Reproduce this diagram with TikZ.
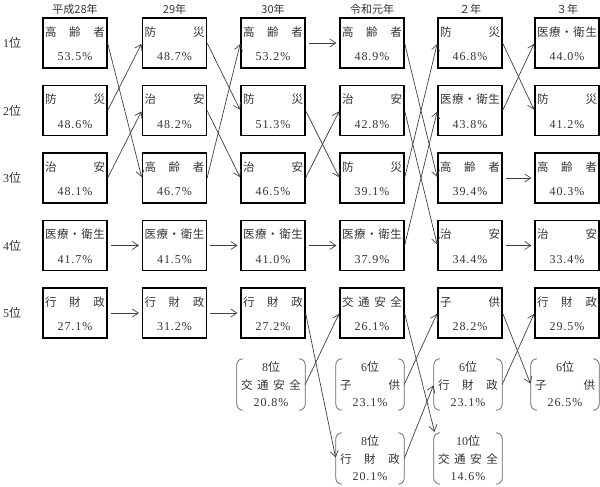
\documentclass[tikz,border=0pt]{standalone}
\usepackage{fontspec}
\setmainfont{Liberation Serif}
\newfontfamily\jp{Noto Sans CJK JP}
\newfontfamily\numfont[LetterSpace=8]{Liberation Serif}
\usetikzlibrary{arrows.meta}
\newcommand\bx[5]{%
  \node[rbox] (#1) at (#2,#3) {};
  \node[txt] (#1t) at (#2,#3-11) {\makebox[60pt][s]{#4}};
  \node[num] (#1p) at (#2,#3+14) {#5\%};
}
\newcommand\bk[6]{%
  \node[bbox] (#1) at (#2,#3) {};
  \draw[brk] ([xshift=6pt]#1.north west) -- (#1.north west) -- (#1.south west) -- ([xshift=6pt]#1.south west);
  \draw[brk] ([xshift=-6pt]#1.north east) -- (#1.north east) -- (#1.south east) -- ([xshift=-6pt]#1.south east);
  \node[rank] (#1r) at (#2,#3-17.5) {#4{\jp 位}};
  \node[txt] (#1t) at (#2,#3+0.5) {\makebox[60pt][s]{#5}};
  \node[num] (#1p) at (#2,#3+18.5) {#6\%};
}
\begin{document}
\begin{tikzpicture}[x=1pt,y=-1pt,
  rbox/.style={draw=black,line width=1.2pt,minimum width=64pt,minimum height=50pt,inner sep=0pt},
  bbox/.style={minimum width=68pt,minimum height=51pt,inner sep=0pt},
  brk/.style={draw=black!60,line width=0.8pt,rounded corners=6pt},
  txt/.style={inner sep=0pt,font=\jp\fontsize{11.5}{12}\selectfont,text=black!80},
  num/.style={inner sep=0pt,font=\numfont\fontsize{12}{12}\selectfont,text=black!80},
  rank/.style={inner sep=0pt,font=\fontsize{12}{12}\selectfont,text=black!80},
  hdr/.style={inner sep=0pt,font=\jp\fontsize{11}{12}\selectfont,text=black!80},
  arr/.style={draw=black!75,line width=0.7pt,-{Straight Barb[length=6pt,width=8pt]},shorten >=1pt},
  harr/.style={arr,shorten <=3pt,shorten >=3pt},
]
\useasboundingbox (0,0) rectangle (600,487);
% headers
\node[hdr] (h1) at (75,9) {平成28年};
\node[hdr] (h2) at (174.5,9) {29年};
\node[hdr] (h3) at (273,9) {30年};
\node[hdr] (h4) at (372,9) {令和元年};
\node[hdr] (h5) at (470,9) {２年};
\node[hdr] (h6) at (567,9) {３年};
% row labels
\node[rank] (l1) at (12,43) {1{\jp 位}};
\node[rank] (l2) at (12,110.5) {2{\jp 位}};
\node[rank] (l3) at (12,178) {3{\jp 位}};
\node[rank] (l4) at (12,245.5) {4{\jp 位}};
\node[rank] (l5) at (12,313) {5{\jp 位}};
% column 1
\bx{c1r1}{75}{43}{高\hfill 齢\hfill 者}{53.5}
\bx{c1r2}{75}{110.5}{防\hfill 災}{48.6}
\bx{c1r3}{75}{178}{治\hfill 安}{48.1}
\bx{c1r4}{75}{245.5}{医\hfill 療\hfill ・\hfill 衛\hfill 生}{41.7}
\bx{c1r5}{75}{313}{行\hfill 財\hfill 政}{27.1}
% column 2
\bx{c2r1}{174.5}{43}{防\hfill 災}{48.7}
\bx{c2r2}{174.5}{110.5}{治\hfill 安}{48.2}
\bx{c2r3}{174.5}{178}{高\hfill 齢\hfill 者}{46.7}
\bx{c2r4}{174.5}{245.5}{医\hfill 療\hfill ・\hfill 衛\hfill 生}{41.5}
\bx{c2r5}{174.5}{313}{行\hfill 財\hfill 政}{31.2}
% column 3
\bx{c3r1}{273}{43}{高\hfill 齢\hfill 者}{53.2}
\bx{c3r2}{273}{110.5}{防\hfill 災}{51.3}
\bx{c3r3}{273}{178}{治\hfill 安}{46.5}
\bx{c3r4}{273}{245.5}{医\hfill 療\hfill ・\hfill 衛\hfill 生}{41.0}
\bx{c3r5}{273}{313}{行\hfill 財\hfill 政}{27.2}
\bk{c3r6}{271}{384.5}{8}{交\hfill 通\hfill 安\hfill 全}{20.8}
% column 4
\bx{c4r1}{372}{43}{高\hfill 齢\hfill 者}{48.9}
\bx{c4r2}{372}{110.5}{治\hfill 安}{42.8}
\bx{c4r3}{372}{178}{防\hfill 災}{39.1}
\bx{c4r4}{372}{245.5}{医\hfill 療\hfill ・\hfill 衛\hfill 生}{37.9}
\bx{c4r5}{372}{313}{交\hfill 通\hfill 安\hfill 全}{26.1}
\bk{c4r6}{370}{384.5}{6}{子\hfill 供}{23.1}
\bk{c4r7}{370}{458.5}{8}{行\hfill 財\hfill 政}{20.1}
% column 5
\bx{c5r1}{470}{43}{防\hfill 災}{46.8}
\bx{c5r2}{470}{110.5}{医\hfill 療\hfill ・\hfill 衛\hfill 生}{43.8}
\bx{c5r3}{470}{178}{高\hfill 齢\hfill 者}{39.4}
\bx{c5r4}{470}{245.5}{治\hfill 安}{34.4}
\bx{c5r5}{470}{313}{子\hfill 供}{28.2}
\bk{c5r6}{468}{384.5}{6}{行\hfill 財\hfill 政}{23.1}
\bk{c5r7}{468}{458.5}{10}{交\hfill 通\hfill 安\hfill 全}{14.6}
% column 6
\bx{c6r1}{567}{43}{医\hfill 療\hfill ・\hfill 衛\hfill 生}{44.0}
\bx{c6r2}{567}{110.5}{防\hfill 災}{41.2}
\bx{c6r3}{567}{178}{高\hfill 齢\hfill 者}{40.3}
\bx{c6r4}{567}{245.5}{治\hfill 安}{33.4}
\bx{c6r5}{567}{313}{行\hfill 財\hfill 政}{29.5}
\bk{c6r6}{565}{384.5}{6}{子\hfill 供}{26.5}
% arrows 1 -> 2
\draw[arr] (c1r1.east) -- (c2r3.west);
\draw[arr] (c1r2.east) -- (c2r1.west);
\draw[arr] (c1r3.east) -- (c2r2.west);
\draw[harr] (c1r4.east) -- (c2r4.west);
\draw[harr] (c1r5.east) -- (c2r5.west);
% arrows 2 -> 3
\draw[arr] (c2r1.east) -- (c3r2.west);
\draw[arr] (c2r2.east) -- (c3r3.west);
\draw[arr] (c2r3.east) -- (c3r1.west);
\draw[harr] (c2r4.east) -- (c3r4.west);
\draw[harr] (c2r5.east) -- (c3r5.west);
% arrows 3 -> 4
\draw[harr] (c3r1.east) -- (c4r1.west);
\draw[arr] (c3r2.east) -- (c4r3.west);
\draw[arr] (c3r3.east) -- (c4r2.west);
\draw[harr] (c3r4.east) -- (c4r4.west);
\draw[arr] (c3r5.east) -- (c4r7.west);
\draw[arr] (c3r6.east) -- (c4r5.west);
% arrows 4 -> 5
\draw[arr] (c4r1.east) -- (c5r3.west);
\draw[arr] (c4r2.east) -- (c5r4.west);
\draw[arr] (c4r3.east) -- (c5r1.west);
\draw[arr] (c4r4.east) -- (c5r2.west);
\draw[arr] (c4r5.east) -- ([xshift=1pt]c5r7.north west);
\draw[arr] (c4r6.east) -- (c5r5.west);
\draw[arr] (c4r7.east) -- (c5r6.west);
% arrows 5 -> 6
\draw[arr] (c5r1.east) -- (c6r2.west);
\draw[arr] (c5r2.east) -- (c6r1.west);
\draw[harr] (c5r3.east) -- (c6r3.west);
\draw[harr] (c5r4.east) -- (c6r4.west);
\draw[arr] (c5r5.east) -- (c6r6.west);
\draw[arr] (c5r6.east) -- (c6r5.west);
\end{tikzpicture}
\end{document}
